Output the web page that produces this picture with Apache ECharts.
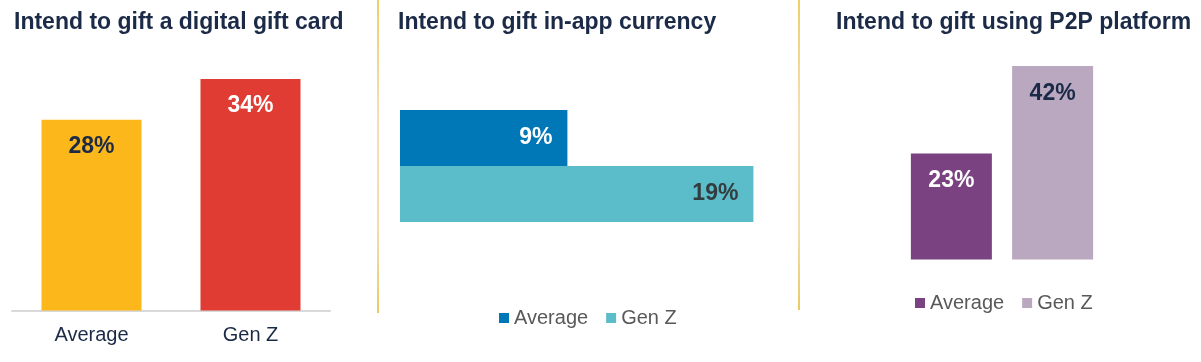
<!DOCTYPE html>
<html>
<head>
<meta charset="utf-8">
<script src="https://cdn.jsdelivr.net/npm/echarts@6/dist/echarts.min.js"></script>
<style>
html,body{margin:0;padding:0;background:#fff;}
#c{width:1201px;height:362px;}
</style>
</head>
<body>
<div id="c"></div>
<script>
var categories = ['Average', 'Gen Z'];
var panelTitles = ['Intend to gift a digital gift card', 'Intend to gift in-app currency', 'Intend to gift using P2P platform'];
var giftCardValues = [28, 34];
var inAppValues = [9, 19];
var p2pValues = [23, 42];

var FONT = '"Liberation Sans", Arial, sans-serif';
var NAVY = '#1B2A47';
var colors1 = ['#FCB71B', '#E03C33'];
var colors2 = ['#0077B6', '#5BBCCA'];
var colors3 = ['#7B4282', '#B9A8BF'];
var labelColors1 = [NAVY, '#ffffff'];
var labelColors2 = ['#ffffff', '#333d40'];
var labelColors3 = ['#ffffff', NAVY];

var chart = echarts.init(document.getElementById('c'), null, {renderer: 'canvas'});

function pct(p) { return p.value + '%'; }

var labelBase = {show: true, fontFamily: FONT, fontWeight: 'bold', fontSize: 23, formatter: pct};

var series = [];
// Panel 1
series.push({
  type: 'bar', name: 'p1', xAxisIndex: 0, yAxisIndex: 0, barWidth: 100,
  data: giftCardValues.map(function (v, i) {
    return {value: v, itemStyle: {color: colors1[i]},
      label: Object.assign({}, labelBase, {position: 'insideTop', distance: 15, color: labelColors1[i]})};
  })
});
// Panel 2
var p2Names = ['p2a', 'p2g'];
var p3Names = ['p3a', 'p3g'];
inAppValues.forEach(function (v, i) {
  series.push({
    type: 'bar', name: p2Names[i], xAxisIndex: 1, yAxisIndex: 1, barWidth: 56, barGap: 0,
    itemStyle: {color: colors2[i]},
    label: Object.assign({}, labelBase, {position: 'insideRight', distance: 15, color: labelColors2[i]}),
    data: [v]
  });
});
p2pValues.forEach(function (v, i) {
  series.push({
    type: 'bar', name: p3Names[i], xAxisIndex: 2, yAxisIndex: 2, barWidth: 81, barGap: '25%',
    itemStyle: {color: colors3[i]},
    label: Object.assign({}, labelBase, {position: 'insideTop', distance: 16, color: labelColors3[i]}),
    data: [v]
  });
});

var nameMap = {p2a: categories[0], p2g: categories[1], p3a: categories[0], p3g: categories[1]};

var legendBase = {
  orient: 'horizontal', itemWidth: 10, itemHeight: 10, itemGap: 18, icon: 'rect',
  selectedMode: false, padding: 0,
  textStyle: {fontFamily: FONT, fontSize: 20, color: '#595959'},
  formatter: function (n) { return nameMap[n]; }
};

var option = {
  backgroundColor: '#ffffff',
  animation: false,
  title: [
    {text: panelTitles[0], left: 14, top: 11},
    {text: panelTitles[1], left: 398, top: 11},
    {text: panelTitles[2], left: 836, top: 11}
  ].map(function (t) {
    t.padding = 0;
    t.textStyle = {fontFamily: FONT, fontSize: 23, fontWeight: 'bold', color: NAVY};
    return t;
  }),
  legend: [
    Object.assign({}, legendBase, {data: p2Names, left: 499, top: 308}),
    Object.assign({}, legendBase, {data: p3Names, left: 915, top: 293})
  ],
  grid: [
    {left: 12, width: 318, top: 38, bottom: 51.5},
    {left: 400, width: 372, top: 110, height: 112},
    {left: 902, width: 200, top: 29, bottom: 102.5}
  ],
  xAxis: [
    {type: 'category', gridIndex: 0, data: categories,
      axisLine: {show: true, lineStyle: {color: '#d9d9d9', width: 2}},
      axisTick: {show: false},
      axisLabel: {fontFamily: FONT, fontSize: 20, color: NAVY, margin: 15}},
    {type: 'value', gridIndex: 1, min: 0, max: 20, show: false},
    {type: 'category', gridIndex: 2, data: [''], show: false}
  ],
  yAxis: [
    {type: 'value', gridIndex: 0, min: 0, max: 40, show: false},
    {type: 'category', gridIndex: 1, data: [''], show: false, inverse: true},
    {type: 'value', gridIndex: 2, min: 0, max: 50, show: false}
  ],
  graphic: [
    {type: 'line', shape: {x1: 378, y1: 0, x2: 378, y2: 313},
      style: {stroke: {type: 'linear', x: 0, y: 0, x2: 0, y2: 1, colorStops: [
        {offset: 0, color: '#E8C030'}, {offset: 0.4, color: '#F6D2A6'}, {offset: 0.75, color: '#EED090'}, {offset: 1, color: '#E2B828'}]}, lineWidth: 1.5}},
    {type: 'line', shape: {x1: 799, y1: 0, x2: 799, y2: 310},
      style: {stroke: {type: 'linear', x: 0, y: 0, x2: 0, y2: 1, colorStops: [
        {offset: 0, color: '#E8C030'}, {offset: 0.4, color: '#F6D2A6'}, {offset: 0.75, color: '#EED090'}, {offset: 1, color: '#E2B828'}]}, lineWidth: 1.5}}
  ],
  series: series
};
chart.setOption(option);
</script>
</body>
</html>
